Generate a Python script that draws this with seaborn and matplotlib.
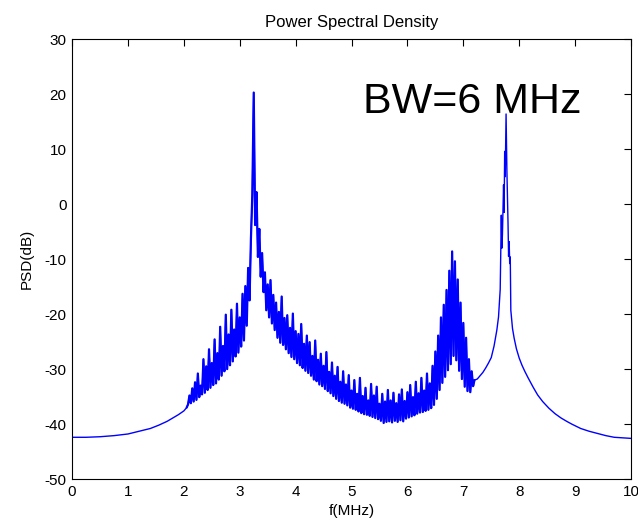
import numpy as np
import pandas as pd
import matplotlib
matplotlib.use("Agg")
import matplotlib.pyplot as plt
import seaborn as sns

# smooth skirt left of the band (MHz, dB)
freq_left = [0.0, 0.25, 0.5, 0.75, 1.0, 1.2, 1.4, 1.55, 1.7, 1.8, 1.9, 2.0]
psd_left = [-42.4, -42.4, -42.3, -42.1, -41.8, -41.3, -40.8, -40.2, -39.5, -38.9, -38.3, -37.6]

# noisy band from 2.05 to 7.2 MHz, read in 0.025 MHz steps
band_start, band_stop = 2.05, 7.2
psd_band = [
    -37.0, -36.4, -34.8, -36.2, -33.5, -35.9, -32.4, -35.6,
    -30.8, -35.1, -33.0, -34.6, -28.2, -34.3, -29.5, -33.8,
    -26.4, -33.4, -28.9, -32.9, -24.6, -32.6, -27.1, -31.9,
    -22.3, -31.2, -25.8, -30.4, -20.1, -30.0, -23.7, -29.3,
    -19.2, -28.6, -22.8, -27.7, -18.1, -27.0, -20.6, -25.9,
    -16.3, -24.8, -14.9, -22.1, -11.6, -17.5, -6.2, 1.8,
    20.3, -3.8, 2.2, -9.6, -4.5, -13.2, -8.9, -16.0,
    -12.4, -19.3, -14.6, -20.6, -13.8, -21.7, -16.5, -22.9,
    -17.9, -24.3, -19.6, -25.2, -16.8, -25.6, -20.7, -26.4,
    -20.2, -27.1, -22.5, -27.8, -19.9, -28.2, -23.1, -28.9,
    -23.6, -29.3, -21.8, -29.8, -25.4, -30.3, -23.9, -30.7,
    -25.1, -31.2, -27.6, -31.9, -24.8, -32.2, -28.3, -32.8,
    -27.2, -33.1, -29.4, -33.6, -26.9, -34.0, -30.5, -34.4,
    -28.8, -34.9, -31.2, -35.4, -29.6, -35.8, -32.3, -36.1,
    -30.4, -36.3, -32.8, -36.6, -31.1, -37.0, -33.9, -37.2,
    -32.0, -37.4, -34.5, -37.7, -31.6, -38.0, -34.9, -38.2,
    -33.4, -38.3, -35.7, -38.5, -32.7, -38.7, -34.8, -38.9,
    -33.2, -39.1, -36.3, -39.4, -34.5, -39.8, -35.9, -39.6,
    -33.8, -39.5, -35.7, -39.7, -34.3, -39.4, -36.2, -39.6,
    -34.6, -39.3, -33.7, -39.5, -35.8, -39.0, -34.2, -38.8,
    -32.9, -38.6, -35.1, -38.4, -32.3, -38.1, -34.4, -37.9,
    -31.6, -37.8, -33.9, -37.6, -30.8, -37.4, -32.6, -37.1,
    -29.4, -36.5, -26.8, -35.4, -23.9, -33.8, -20.6, -32.5,
    -18.3, -31.4, -15.6, -30.2, -12.1, -29.1, -8.6, -27.6,
    -10.4, -28.4, -13.7, -30.3, -17.9, -31.8, -21.6, -33.2,
    -24.3, -34.0, -28.2, -34.2, -30.4, -33.1, -32.0,
]

# second carrier and right skirt
freq_right = [7.25, 7.3, 7.35, 7.4, 7.45, 7.5, 7.55, 7.6, 7.63, 7.66,
              7.68, 7.69, 7.7, 7.72, 7.73, 7.74, 7.75, 7.765, 7.78, 7.79,
              7.8, 7.81, 7.82, 7.83, 7.84, 7.85, 7.88, 7.91, 7.95, 8.0,
              8.05, 8.1, 8.16, 8.25, 8.33, 8.42, 8.53, 8.64, 8.75, 8.85,
              8.94, 9.1, 9.25, 9.4, 9.55, 9.7, 9.85, 10.0]
psd_right = [-31.8, -31.2, -30.6, -29.8, -28.9, -27.9, -25.8, -22.9, -20.5, -15.5,
             -2.0, -8.0, -5.5, 3.5, -1.5, 9.6, 5.0, 16.4, 6.0, 1.6,
             -3.5, -9.5, -6.8, -10.8, -9.6, -19.3, -22.6, -24.4, -26.3, -28.0,
             -29.3, -30.4, -31.6, -33.3, -34.7, -35.9, -37.1, -38.1, -38.9, -39.5,
             -40.0, -40.8, -41.3, -41.7, -42.1, -42.4, -42.5, -42.6]

freq_band = np.linspace(band_start, band_stop, len(psd_band))
df = pd.DataFrame({
    "f": np.concatenate([freq_left, freq_band, freq_right]),
    "psd": np.concatenate([psd_left, psd_band, psd_right]),
})
band = pd.DataFrame({"f": freq_band, "psd": psd_band})

sns.set_style("white")
plt.rcParams["font.family"] = ["Liberation Sans", "DejaVu Sans"]
plt.rcParams["axes.unicode_minus"] = False
plt.rcParams["text.color"] = "black"
plt.rcParams["axes.labelcolor"] = "black"

fig = plt.figure(figsize=(6.38, 5.23), dpi=100)
ax = fig.add_axes([0.113, 0.084, 0.876, 0.841])

sns.lineplot(data=df, x="f", y="psd", color="#0000ff", linewidth=1.0,
             estimator=None, sort=False, ax=ax)
# the noisy part looks like a solid band in the original, thicken it a bit
sns.lineplot(data=band, x="f", y="psd", color="#0000ff", linewidth=1.6,
             estimator=None, sort=False, ax=ax)

ax.set_xlim(0, 10)
ax.set_ylim(-50, 30)
ax.set_xticks(range(0, 11))
ax.set_yticks(range(-50, 31, 10))
ax.tick_params(direction="in", length=5, width=0.8, top=True, right=True,
               labelsize=11, colors="black", pad=4)
for s in ax.spines.values():
    s.set_visible(True)
    s.set_color("black")
    s.set_linewidth(0.8)

ax.set_xlabel("f(MHz)", fontsize=11, labelpad=4)
ax.set_ylabel("PSD(dB)", fontsize=11, labelpad=8)
ax.set_title("Power Spectral Density", fontsize=12, pad=9)
ax.text(0.52, 0.858, "BW=6 MHz", transform=ax.transAxes, fontsize=31,
        color="black", va="center", ha="left")

fig.savefig("out.png", dpi=100)
